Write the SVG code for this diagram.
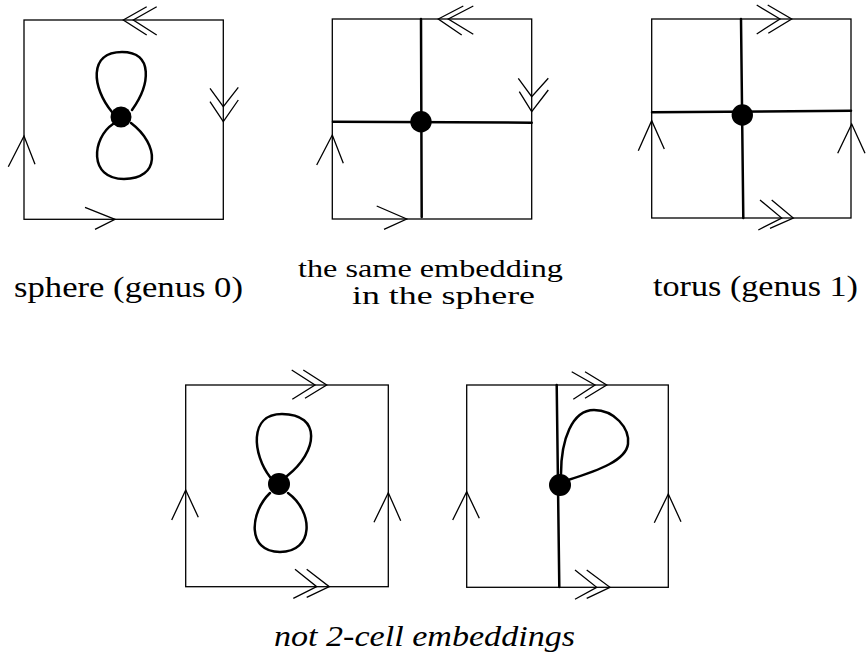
<svg xmlns="http://www.w3.org/2000/svg" width="868" height="657" viewBox="0 0 868 657">
<style>
.frame{fill:none;stroke:#000;stroke-width:1.3}
.edge{fill:none;stroke:#000;stroke-width:2.5;stroke-linecap:round}
.arr{fill:none;stroke:#000;stroke-width:1.3}
.dot{fill:#000}
.lbl{font-family:"Liberation Serif","DejaVu Serif","Times New Roman",serif;font-size:29px;fill:#000}
.two{font-size:24.5px}
.it{font-style:italic}
</style>
<rect width="868" height="657" fill="#fff"/>

<g id="panel-sphere">
  <rect class="frame" x="24" y="20" width="199.3" height="199.3"/>
  <path class="edge" d="M112,112 C92,88 88,52 122,52 C154,52 150,85 132,110"/>
  <path class="edge" d="M113,124 C92,138 88,179 124,179 C160,179 160,145 131,123"/>
  <circle class="dot" cx="121" cy="117" r="10.5"/>
  <polyline class="arr" points="146.7,6.7 123.3,20 146.7,35"/>
  <polyline class="arr" points="156.7,6.7 133.3,20 156.7,35"/>
  <polyline class="arr" points="210,88.3 223.3,106.7 238.3,87.3"/>
  <polyline class="arr" points="210,101.7 223.3,121.7 238.3,100"/>
  <polyline class="arr" points="8.3,166.7 24,136 35,164.3"/>
  <polyline class="arr" points="85,207.3 115,219.3 95,229.3"/>
</g>

<g id="panel-same">
  <rect class="frame" x="332.3" y="19" width="199.4" height="200"/>
  <line class="edge" x1="421" y1="19" x2="421.7" y2="217"/>
  <line class="edge" x1="333" y1="121.7" x2="531.7" y2="122.7"/>
  <circle class="dot" cx="421" cy="121.7" r="10.7"/>
  <polyline class="arr" points="463.3,6 438.3,19 461.7,35"/>
  <polyline class="arr" points="473.3,6 448.3,19 473.3,34.3"/>
  <polyline class="arr" points="518.3,78.3 531.7,96.7 548.3,78.3"/>
  <polyline class="arr" points="519.3,91.7 531.7,111.7 548.3,90"/>
  <polyline class="arr" points="316.7,165 332.3,135 343.3,163.3"/>
  <polyline class="arr" points="376.7,206 406.7,219 384,229.3"/>
</g>

<g id="panel-torus">
  <rect class="frame" x="651.7" y="19" width="199.3" height="199"/>
  <line class="edge" x1="741" y1="19" x2="743.3" y2="218"/>
  <line class="edge" x1="652" y1="112.3" x2="851" y2="110.7"/>
  <circle class="dot" cx="742.3" cy="115" r="10.7"/>
  <polyline class="arr" points="756.7,5 780,19 756.7,34"/>
  <polyline class="arr" points="767.7,5 791.7,19 768.3,33.3"/>
  <polyline class="arr" points="760,200 781.7,218 758.3,230"/>
  <polyline class="arr" points="771.7,200 793.3,218 770,228.3"/>
  <polyline class="arr" points="638.3,150.7 651.7,120.7 664.3,149"/>
  <polyline class="arr" points="837.7,153.3 851.7,124 865,153.3"/>
</g>

<g id="panel-not1">
  <rect class="frame" x="185.7" y="385" width="202.6" height="201.7"/>
  <path class="edge" d="M270,477 C253,455 248,414 282,414 C322,414 318,452 287,476"/>
  <path class="edge" d="M270,493 C250,512 246,552 280,552 C314,552 314,512 288,493"/>
  <circle class="dot" cx="279" cy="484" r="11"/>
  <polyline class="arr" points="291.7,370 315,385 292.3,399.3"/>
  <polyline class="arr" points="303.3,370 326.7,385 305,398.3"/>
  <polyline class="arr" points="295,569.3 316.7,586.7 293.3,598.3"/>
  <polyline class="arr" points="306.7,569.3 329.3,586.7 306.7,597.3"/>
  <polyline class="arr" points="171.7,520 185.7,490 198.3,517.3"/>
  <polyline class="arr" points="374,522.3 388.3,492.7 400.7,520.7"/>
</g>

<g id="panel-not2">
  <rect class="frame" x="466.7" y="385" width="201.6" height="202.3"/>
  <line class="edge" x1="556.7" y1="385" x2="559.3" y2="587"/>
  <path class="edge" d="M561,474 C561,440 572,410 594,410 C614,410 630,428 628,444 C626,460 600,470 568,480"/>
  <circle class="dot" cx="560" cy="485" r="11"/>
  <polyline class="arr" points="571.7,371.7 595,385 573.3,399.3"/>
  <polyline class="arr" points="585,371.7 606.7,385 585,398.3"/>
  <polyline class="arr" points="575,570 596.7,587.3 575,599.3"/>
  <polyline class="arr" points="586.7,570 610,587.3 586.7,598.3"/>
  <polyline class="arr" points="452.7,520 466.7,491.7 479.3,518.3"/>
  <polyline class="arr" points="654.3,522.7 668.3,494 681,521.7"/>
</g>

<g id="connectors"></g>

<g id="labels">
  <text class="lbl" x="14" y="297" textLength="229" lengthAdjust="spacingAndGlyphs">sphere (genus 0)</text>
  <text class="lbl two" x="298" y="277" textLength="265" lengthAdjust="spacingAndGlyphs">the same embedding</text>
  <text class="lbl two" x="352" y="304" textLength="183" lengthAdjust="spacingAndGlyphs">in the sphere</text>
  <text class="lbl" x="653" y="296" textLength="205" lengthAdjust="spacingAndGlyphs">torus (genus 1)</text>
  <text class="lbl it" x="274" y="646" textLength="301" lengthAdjust="spacingAndGlyphs">not 2-cell embeddings</text>
</g>
</svg>
